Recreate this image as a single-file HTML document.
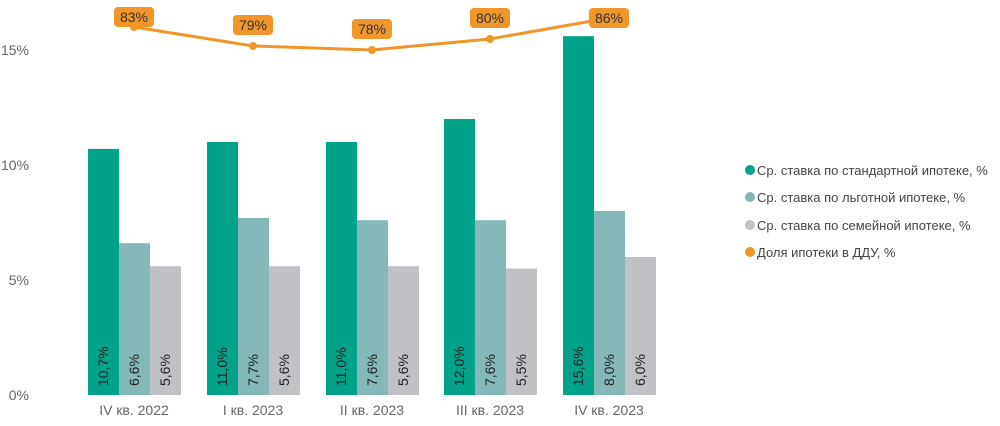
<!DOCTYPE html><html><head><meta charset="utf-8"><style>body{margin:0;background:#fff}svg text{font-family:"Liberation Sans",sans-serif}</style></head><body>
<svg width="1000" height="421" xmlns="http://www.w3.org/2000/svg">
<g font-size="14" fill="#666" text-anchor="end">
<text x="29" y="55">15%</text><text x="29" y="170">10%</text><text x="29" y="285">5%</text><text x="29" y="400">0%</text></g>
<g>
<rect x="88" y="148.9" width="31" height="246.1" fill="#00a387"/><rect x="119" y="243.2" width="31" height="151.8" fill="#84b8b9"/><rect x="150" y="266.2" width="31" height="128.8" fill="#bfc1c4"/>
<rect x="207" y="142" width="31" height="253" fill="#00a387"/><rect x="238" y="217.9" width="31" height="177.1" fill="#84b8b9"/><rect x="269" y="266.2" width="31" height="128.8" fill="#bfc1c4"/>
<rect x="326" y="142" width="31" height="253" fill="#00a387"/><rect x="357" y="220.2" width="31" height="174.8" fill="#84b8b9"/><rect x="388" y="266.2" width="31" height="128.8" fill="#bfc1c4"/>
<rect x="444" y="119" width="31" height="276" fill="#00a387"/><rect x="475" y="220.2" width="31" height="174.8" fill="#84b8b9"/><rect x="506" y="268.5" width="31" height="126.5" fill="#bfc1c4"/>
<rect x="563" y="36.2" width="31" height="358.8" fill="#00a387"/><rect x="594" y="211" width="31" height="184" fill="#84b8b9"/><rect x="625" y="257" width="31" height="138" fill="#bfc1c4"/>
</g>
<g font-size="14" fill="#222">
<text transform="translate(108,386) rotate(-90)">10,7%</text><text transform="translate(139,386) rotate(-90)">6,6%</text><text transform="translate(170,386) rotate(-90)">5,6%</text>
<text transform="translate(227,386) rotate(-90)">11,0%</text><text transform="translate(258,386) rotate(-90)">7,7%</text><text transform="translate(289,386) rotate(-90)">5,6%</text>
<text transform="translate(346,386) rotate(-90)">11,0%</text><text transform="translate(377,386) rotate(-90)">7,6%</text><text transform="translate(408,386) rotate(-90)">5,6%</text>
<text transform="translate(464,386) rotate(-90)">12,0%</text><text transform="translate(495,386) rotate(-90)">7,6%</text><text transform="translate(526,386) rotate(-90)">5,5%</text>
<text transform="translate(583,386) rotate(-90)">15,6%</text><text transform="translate(614,386) rotate(-90)">8,0%</text><text transform="translate(645,386) rotate(-90)">6,0%</text>
</g>
<g font-size="14" fill="#666" text-anchor="middle">
<text x="134" y="415">IV кв. 2022</text><text x="253" y="415">I кв. 2023</text><text x="372" y="415">II кв. 2023</text><text x="490" y="415">III кв. 2023</text><text x="609" y="415">IV кв. 2023</text></g>
<polyline points="134,27 253,46 372,50 490,39 609,18" fill="none" stroke="#f0962b" stroke-width="3"/>
<g fill="#f0962b"><circle cx="134" cy="27" r="4"/><circle cx="253" cy="46" r="4"/><circle cx="372" cy="50" r="4"/><circle cx="490" cy="39" r="4"/><circle cx="609" cy="18" r="4"/>
<rect x="114" y="7" width="40" height="20" rx="4"/><rect x="233" y="15" width="40" height="20" rx="4"/><rect x="352" y="19" width="40" height="20" rx="4"/><rect x="470" y="8" width="40" height="20" rx="4"/><rect x="589" y="8" width="40" height="20" rx="4"/></g>
<g font-size="14" fill="#333" text-anchor="middle"><text x="134" y="22">83%</text><text x="253" y="30">79%</text><text x="372" y="34">78%</text><text x="490" y="23">80%</text><text x="609" y="23">86%</text></g>
<g font-size="13" fill="#444">
<circle cx="750" cy="170" r="5" fill="#00a387"/><text x="757" y="175">Ср. ставка по стандартной ипотеке, %</text>
<circle cx="750" cy="197" r="5" fill="#84b8b9"/><text x="757" y="202">Ср. ставка по льготной ипотеке, %</text>
<circle cx="750" cy="225" r="5" fill="#bfc1c4"/><text x="757" y="230">Ср. ставка по семейной ипотеке, %</text>
<circle cx="750" cy="252" r="5" fill="#f0962b"/><text x="757" y="257">Доля ипотеки в ДДУ, %</text></g>
</svg></body></html>
